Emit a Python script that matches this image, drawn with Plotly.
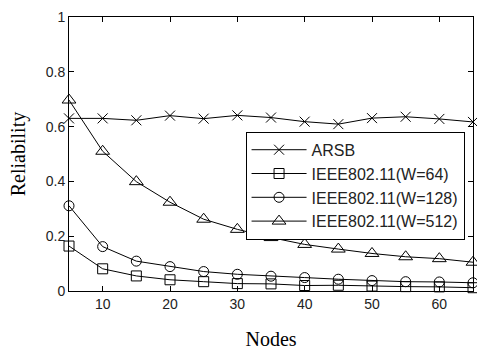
import plotly.graph_objects as go

nodes = [5, 10, 15, 20, 25, 30, 35, 40, 45, 50, 55, 60, 65]
arsb = [0.630, 0.630, 0.623, 0.640, 0.629, 0.641, 0.633, 0.618, 0.609, 0.631, 0.636, 0.628, 0.617]
w64 = [0.164, 0.081, 0.055, 0.041, 0.034, 0.027, 0.026, 0.020, 0.021, 0.018, 0.016, 0.015, 0.012]
w128 = [0.311, 0.162, 0.109, 0.089, 0.071, 0.061, 0.054, 0.049, 0.043, 0.038, 0.034, 0.033, 0.030]
w512 = [0.697, 0.510, 0.399, 0.324, 0.262, 0.225, 0.195, 0.170, 0.153, 0.137, 0.125, 0.118, 0.105]

series = [
    ("ARSB", arsb, "x-thin-open", 10),
    ("IEEE802.11(W=64)", w64, "square-open", 10),
    ("IEEE802.11(W=128)", w128, "circle-open", 10),
    ("IEEE802.11(W=512)", w512, "triangle-up-open", 12),
]

fig = go.Figure()
for name, vals, sym, sz in series:
    fig.add_trace(go.Scatter(
        x=nodes, y=vals, name=name, mode="lines+markers",
        line=dict(color="black", width=1),
        marker=dict(symbol=sym, size=sz, color="black",
                    line=dict(color="black", width=1)),
        cliponaxis=False,
    ))

axis_common = dict(
    showline=True, linecolor="black", linewidth=1, mirror="ticks",
    ticks="inside", ticklen=5, tickcolor="black", showgrid=False,
    zeroline=False, automargin=False,
    tickfont=dict(family="Liberation Sans, Arial", size=14, color="#222"),
)
fig.update_xaxes(range=[5, 65], tickvals=[10, 20, 30, 40, 50, 60],
                 title=dict(text="Nodes", font=dict(family="Liberation Serif, Times New Roman", size=20, color="black"), standoff=23),
                 **axis_common)
fig.update_yaxes(range=[0, 1], tickvals=[0, 0.2, 0.4, 0.6, 0.8, 1],
                 ticktext=["0", "0.2", "0.4", "0.6", "0.8", "1"],
                 title=dict(text="Reliability", font=dict(family="Liberation Serif, Times New Roman", size=20, color="black"), standoff=14),
                 **axis_common)
fig.update_layout(
    width=477, height=350,
    margin=dict(l=69, r=4, t=17, b=59),
    paper_bgcolor="white", plot_bgcolor="white",
    showlegend=True,
    legend=dict(x=0.437, y=0.581, xanchor="left", yanchor="top",
                bgcolor="white", bordercolor="black", borderwidth=1,
                font=dict(family="Liberation Sans, Arial", size=16, color="#222"),
                itemwidth=55, tracegroupgap=0),
)
fig.write_html("out.html")
